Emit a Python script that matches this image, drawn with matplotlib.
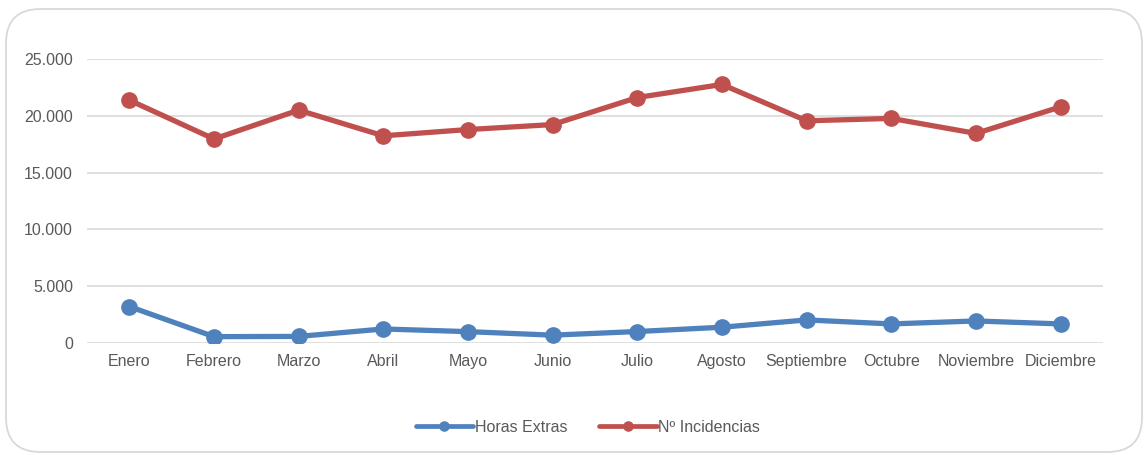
import matplotlib
matplotlib.use("Agg")
import matplotlib.pyplot as plt
from matplotlib.patches import FancyBboxPatch
from matplotlib.ticker import FuncFormatter

plt.rcParams['font.family'] = ['Liberation Sans', 'DejaVu Sans']

meses = ["Enero", "Febrero", "Marzo", "Abril", "Mayo", "Junio", "Julio",
         "Agosto", "Septiembre", "Octubre", "Noviembre", "Diciembre"]
horas_extras = [3210, 560, 580, 1235, 1000, 690, 1010, 1390, 2030, 1680, 1940, 1680]
incidencias = [21380, 17960, 20500, 18240, 18790, 19230, 21610, 22760, 19560, 19770, 18450, 20790]
y_ticks = [0, 5000, 10000, 15000, 20000, 25000]

BLUE = "#4f81bd"
RED = "#c0504d"
TXT = "#595959"
GRID = "#d9d9d9"

W, H = 1145, 455
fig = plt.figure(figsize=(W / 100, H / 100), dpi=100)

box = FancyBboxPatch((6 / W, 3 / H), (1142 - 6) / W, (446 - 3) / H,
                     boxstyle="round,pad=0,rounding_size=0.03",
                     transform=fig.transFigure, facecolor="none",
                     edgecolor="#d9d9d9", linewidth=1.3, mutation_aspect=W / H,
                     zorder=-1)
fig.patches.append(box)

ax = fig.add_axes([87 / W, 1 - 343 / H, (1103 - 87) / W, (343 - 59) / H])
ax.set_facecolor("none")
x = list(range(len(meses)))
ax.plot(x, horas_extras, color=BLUE, lw=3.8, marker="o", ms=11, label="Horas Extras",
        solid_capstyle="round", zorder=3)
ax.plot(x, incidencias, color=RED, lw=3.8, marker="o", ms=11, label="Nº Incidencias",
        solid_capstyle="round", zorder=3)

ax.set_xlim(-0.5, len(meses) - 0.5)
ax.set_ylim(0, 25000)
ax.set_yticks(y_ticks)
ax.yaxis.set_major_formatter(FuncFormatter(lambda v, p: f"{int(v):,}".replace(",", ".")))
ax.set_xticks(x)
ax.set_xticklabels(meses)
ax.grid(axis="y", color=GRID, lw=1.2)
ax.set_axisbelow(True)
for s in ax.spines.values():
    s.set_visible(False)
ax.tick_params(axis="both", length=0, labelsize=11.5, colors=TXT)
ax.tick_params(axis="x", pad=8)
ax.tick_params(axis="y", pad=10)

leg = fig.legend(loc="center", bbox_to_anchor=(588 / W, 1 - 427 / H), ncol=2,
                 frameon=False, fontsize=11.5, handlelength=3.6, handletextpad=0.1,
                 columnspacing=2.0, markerscale=0.6)
for t in leg.get_texts():
    t.set_color(TXT)
for h in leg.get_lines():
    h.set_linewidth(3.4)

fig.savefig("out.png", dpi=100)
